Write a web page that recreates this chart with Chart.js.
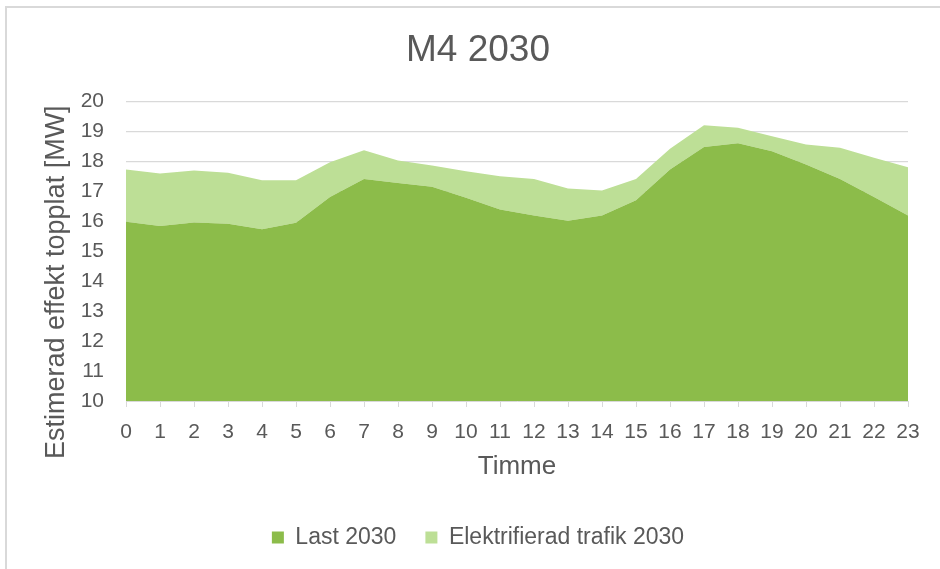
<!DOCTYPE html>
<html>
<head>
<meta charset="utf-8">
<script src="https://cdn.jsdelivr.net/npm/chart.js@4.4.1/dist/chart.umd.min.js"></script>
<style>
    body { margin: 0; background: #ffffff; overflow: hidden; }
    #wrap { position: relative; width: 940px; height: 569px; }
    #frame {
        position: absolute; left: 5px; top: 6px; width: 2000px; height: 2000px;
        border-left: 2px solid #d9d9d9; border-top: 2px solid #d9d9d9;
    }
    #chart { position: absolute; left: 0; top: 0; }
</style>
</head>
<body>
<div id="wrap">
    <div id="frame"></div>
    <canvas id="chart" width="940" height="569"></canvas>
</div>
<script>
const hours = ['0', '1', '2', '3', '4', '5', '6', '7', '8', '9', '10', '11',
    '12', '13', '14', '15', '16', '17', '18', '19', '20', '21', '22', '23'];

const last2030 = [15.98, 15.84, 15.96, 15.92, 15.73, 15.95, 16.81, 17.41, 17.28, 17.15, 16.78, 16.39,
    16.19, 16.02, 16.19, 16.70, 17.73, 18.48, 18.60, 18.34, 17.89, 17.41, 16.81, 16.19];

// stacked on top of last2030
const trafik2030 = [1.75, 1.75, 1.73, 1.70, 1.64, 1.42, 1.16, 0.96, 0.75, 0.71, 0.89, 1.11,
    1.22, 1.07, 0.84, 0.71, 0.69, 0.72, 0.52, 0.50, 0.67, 1.04, 1.31, 1.61];

const yMin = 10;
const yMax = 20;
const yStep = 1;

const yTitle = 'Estimerad effekt topplat [MW]';

const textColor = '#595959';
const fontFamily = '"Liberation Sans", Arial, sans-serif';

// y axis title sits a bit below the middle of the plot, like in the original
const yTitlePlugin = {
    id: 'yTitlePlugin',
    afterDraw(chart) {
        const ctx = chart.ctx;
        const area = chart.chartArea;
        ctx.save();
        ctx.translate(57, (area.top + area.bottom) / 2 + 31);
        ctx.rotate(-Math.PI / 2);
        ctx.font = '27px ' + fontFamily;
        ctx.fillStyle = textColor;
        ctx.textAlign = 'center';
        ctx.textBaseline = 'middle';
        ctx.fillText(yTitle, 0, 0);
        ctx.restore();
    }
};

function renderChart() {
    const ctx = document.getElementById('chart').getContext('2d');

    const chartData = {
        labels: hours,
        datasets: [
            {
                label: 'Last 2030',
                data: last2030,
                backgroundColor: '#8cbc4a',
                borderColor: '#8cbc4a',
                borderWidth: 0,
                pointRadius: 0,
                fill: 'start',
                tension: 0
            },
            {
                label: 'Elektrifierad trafik 2030',
                data: trafik2030,
                backgroundColor: '#bddf96',
                borderColor: '#bddf96',
                borderWidth: 0,
                pointRadius: 0,
                fill: '-1',
                tension: 0
            }
        ]
    };

    const chartOptions = {
        responsive: false,
        animation: false,
        layout: {
            padding: { left: 16, right: 0, top: 0, bottom: 10 }
        },
        scales: {
            x: {
                type: 'category',
                offset: false,
                grid: {
                    drawOnChartArea: false,
                    drawTicks: true,
                    tickLength: 6,
                    color: '#d9d9d9'
                },
                border: { display: true, color: '#d9d9d9', width: 1 },
                ticks: {
                    color: textColor,
                    autoSkip: false,
                    maxRotation: 0,
                    padding: 13,
                    font: { family: fontFamily, size: 21 }
                },
                title: {
                    display: true,
                    text: 'Timme',
                    color: textColor,
                    padding: { top: 2, bottom: 15 },
                    font: { family: fontFamily, size: 26 }
                },
                afterFit: function(scale) {
                    scale.height = 96;
                }
            },
            y: {
                stacked: true,
                min: yMin,
                max: yMax,
                grid: {
                    drawTicks: false,
                    color: '#d9d9d9',
                    lineWidth: 1.3
                },
                border: { display: false },
                ticks: {
                    stepSize: yStep,
                    color: textColor,
                    padding: 22,
                    font: { family: fontFamily, size: 21 }
                },
                afterFit: function(scale) {
                    scale.width = 110;
                }
            },
            // empty axis on the right, only keeps the gap after hour 23
            spacer: {
                type: 'linear',
                position: 'right',
                display: true,
                grid: { display: false },
                border: { display: false },
                ticks: { display: false },
                afterFit: function(scale) {
                    scale.width = 32;
                }
            }
        },
        plugins: {
            title: {
                display: true,
                text: 'M4 2030',
                color: textColor,
                padding: { top: 29, bottom: 28 },
                font: { family: fontFamily, size: 37, weight: 'normal' }
            },
            legend: {
                display: true,
                position: 'bottom',
                labels: {
                    color: textColor,
                    boxWidth: 12,
                    boxHeight: 12,
                    padding: 29,
                    font: { family: fontFamily, size: 23 }
                }
            },
            tooltip: { enabled: false }
        }
    };

    new Chart(ctx, {
        type: 'line',
        data: chartData,
        options: chartOptions,
        plugins: [yTitlePlugin]
    });
}

renderChart();
</script>
</body>
</html>
